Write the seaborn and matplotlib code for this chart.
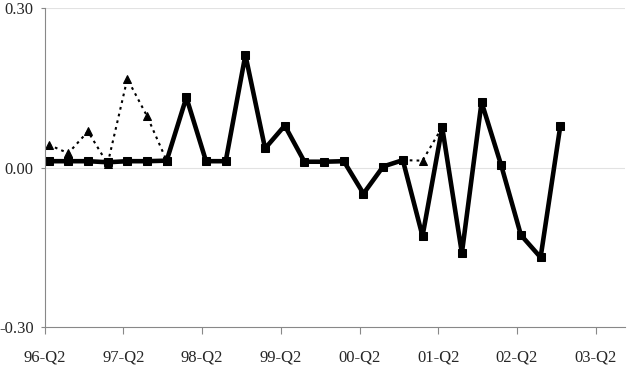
import numpy as np
import pandas as pd
import matplotlib
matplotlib.use("Agg")
import matplotlib.pyplot as plt
import seaborn as sns

# quarterly values, 96-Q2 onwards
solid = [0.012, 0.012, 0.012, 0.010, 0.012, 0.012, 0.013, 0.132, 0.012, 0.012,
         0.212, 0.036, 0.079, 0.011, 0.011, 0.012, -0.049, 0.002, 0.014, -0.129,
         0.076, -0.161, 0.123, 0.004, -0.127, -0.169, 0.078]
dotted_a_idx = [0, 1, 2, 3, 4, 5, 6]
dotted_a = [0.043, 0.027, 0.068, 0.007, 0.167, 0.097, 0.013]
dotted_b_idx = [18, 19, 20]
dotted_b = [0.014, 0.013, 0.076]
tick_labels = ["96-Q2", "97-Q2", "98-Q2", "99-Q2", "00-Q2", "01-Q2", "02-Q2", "03-Q2"]
y_ticks = [-0.30, 0.00, 0.30]

sns.set_style("white")
plt.rcParams["font.family"] = ["Liberation Serif", "DejaVu Serif"]

df_solid = pd.DataFrame({"q": np.arange(len(solid)), "v": solid})
df_dot = pd.DataFrame({
    "q": dotted_a_idx + dotted_b_idx,
    "v": dotted_a + dotted_b,
    "seg": ["a"] * len(dotted_a) + ["b"] * len(dotted_b),
})

fig = plt.figure(figsize=(6.29, 3.87), dpi=100)
ax = fig.add_axes([0.071, 0.155, 0.923, 0.824])

sns.lineplot(data=df_dot, x="q", y="v", units="seg", estimator=None, ax=ax,
             color="black", linewidth=1.5, linestyle=(0, (1.3, 2.0)),
             marker="^", markersize=6, markeredgecolor="black")
sns.lineplot(data=df_solid, x="q", y="v", ax=ax, color="black", linewidth=3.3,
             marker="s", markersize=6, markeredgecolor="black")

off = -0.2
ax.set_xlim(off, 29.3)
ax.set_ylim(-0.30, 0.30)
ax.set_xticks([off + 4 * i for i in range(len(tick_labels))])
ax.set_xticklabels(tick_labels)
ax.set_yticks(y_ticks)
ax.set_yticklabels([f"{t:.2f}" for t in y_ticks])
ax.axhline(0, color="#e2e2e2", linewidth=0.8, zorder=0)
ax.axhline(0.30, color="#e2e2e2", linewidth=0.8, zorder=0)

for s in ["top", "right"]:
    ax.spines[s].set_visible(False)
ax.spines["left"].set_color("#888888")
ax.spines["bottom"].set_color("#888888")
ax.tick_params(axis="both", direction="out", width=0.8,
               color="#888888", labelsize=12, bottom=True, left=True)
ax.tick_params(axis="x", length=5, pad=11)
ax.tick_params(axis="y", length=3, pad=5)
ax.set_xlabel("")
ax.set_ylabel("")

fig.savefig("out.png", dpi=100)
